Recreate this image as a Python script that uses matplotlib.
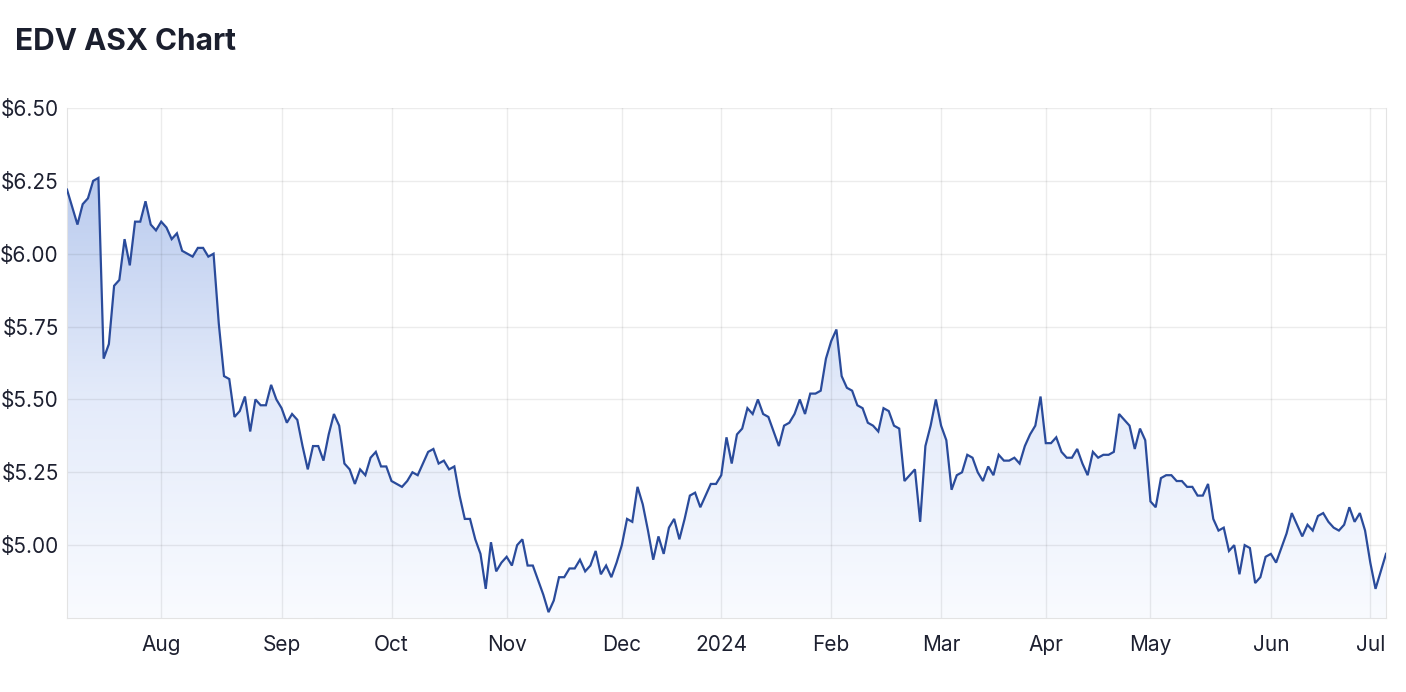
import matplotlib.pyplot as plt
import numpy as np
import pandas as pd
from matplotlib.colors import LinearSegmentedColormap

# ASX trading days Jul 2023 - Jul 2024 (closed on public holidays)
holidays = ['2023-12-25', '2023-12-26', '2024-01-01', '2024-01-26',
            '2024-03-29', '2024-04-01', '2024-04-25', '2024-06-10']
dates = pd.bdate_range('2023-07-06', '2024-07-04', freq='C', holidays=holidays)

# closing prices, one per trading day
jul23 = [6.22, 6.16, 6.10, 6.17, 6.19, 6.25, 6.26, 5.64, 5.69, 5.89, 5.91, 6.05,
         5.96, 6.11, 6.11, 6.18, 6.10, 6.08]
aug23 = [6.11, 6.09, 6.05, 6.07, 6.01, 6.00, 5.99, 6.02, 6.02, 5.99, 6.00, 5.76,
         5.58, 5.57, 5.44, 5.46, 5.51, 5.39, 5.50, 5.48, 5.48, 5.55, 5.50]
sep23 = [5.47, 5.42, 5.45, 5.43, 5.34, 5.26, 5.34, 5.34, 5.29, 5.38, 5.45, 5.41,
         5.28, 5.26, 5.21, 5.26, 5.24, 5.30, 5.32, 5.27, 5.27]
oct23 = [5.22, 5.21, 5.20, 5.22, 5.25, 5.24, 5.28, 5.32, 5.33, 5.28, 5.29, 5.26,
         5.27, 5.17, 5.09, 5.09, 5.02, 4.97, 4.85, 5.01, 4.91, 4.94]
nov23 = [4.96, 4.93, 5.00, 5.02, 4.93, 4.93, 4.88, 4.83, 4.77, 4.81, 4.89, 4.89,
         4.92, 4.92, 4.95, 4.91, 4.93, 4.98, 4.90, 4.93, 4.89, 4.94]
dec23 = [5.00, 5.09, 5.08, 5.20, 5.14, 5.05, 4.95, 5.03, 4.97, 5.06, 5.09, 5.02,
         5.09, 5.17, 5.18, 5.13, 5.17, 5.21, 5.21]
jan24 = [5.24, 5.37, 5.28, 5.38, 5.40, 5.47, 5.45, 5.50, 5.45, 5.44, 5.39, 5.34,
         5.41, 5.42, 5.45, 5.50, 5.45, 5.52, 5.52, 5.53, 5.64]
feb24 = [5.70, 5.74, 5.58, 5.54, 5.53, 5.48, 5.47, 5.42, 5.41, 5.39, 5.47, 5.46,
         5.41, 5.40, 5.22, 5.24, 5.26, 5.08, 5.34, 5.41, 5.50]
mar24 = [5.41, 5.36, 5.19, 5.24, 5.25, 5.31, 5.30, 5.25, 5.22, 5.27, 5.24, 5.31,
         5.29, 5.29, 5.30, 5.28, 5.34, 5.38, 5.41, 5.51]
apr24 = [5.35, 5.35, 5.37, 5.32, 5.30, 5.30, 5.33, 5.28, 5.24, 5.32, 5.30, 5.31,
         5.31, 5.32, 5.45, 5.43, 5.41, 5.33, 5.40, 5.36]
may24 = [5.15, 5.13, 5.23, 5.24, 5.24, 5.22, 5.22, 5.20, 5.20, 5.17, 5.17, 5.21,
         5.09, 5.05, 5.06, 4.98, 5.00, 4.90, 5.00, 4.99, 4.87, 4.89, 4.96]
jun24 = [4.97, 4.94, 4.99, 5.04, 5.11, 5.07, 5.03, 5.07, 5.05, 5.10, 5.11, 5.08,
         5.06, 5.05, 5.07, 5.13, 5.08, 5.11, 5.05]
jul24 = [4.94, 4.85, 4.91, 4.97]

prices = jul23 + aug23 + sep23 + oct23 + nov23 + dec23 + jan24 + feb24 + mar24 + apr24 + may24 + jun24 + jul24
y_ticks = [5.00, 5.25, 5.50, 5.75, 6.00, 6.25, 6.50]
y_labels = ['$5.00', '$5.25', '$5.50', '$5.75', '$6.00', '$6.25', '$6.50']

plt.rcParams['font.family'] = ['Inter', 'DejaVu Sans']

x = np.arange(len(prices))
ymin, ymax = 4.75, 6.50

fig = plt.figure(figsize=(14.06, 6.92), dpi=100)
ax = fig.add_axes([67 / 1406, 1 - 618 / 692, 1319 / 1406, 510 / 692])

# gradient area under the line
poly = ax.fill_between(x, prices, ymin, color='none', lw=0)
cmap = LinearSegmentedColormap.from_list('fade', ['#f9fbff', '#e4ebfa', '#bacbee'])
grad = np.linspace(0, 1, 256).reshape(-1, 1)
img = ax.imshow(grad, cmap=cmap, origin='lower', aspect='auto',
                extent=[0, len(prices) - 1, ymin, max(prices)], zorder=0)
img.set_clip_path(poly.get_paths()[0], transform=ax.transData)

ax.plot(x, prices, color='#2a4b9b', lw=1.6, zorder=3, solid_joinstyle='miter')

# month ticks at first trading day of each month
months = pd.Series(dates.to_period('M'))
first = months.ne(months.shift()).to_numpy()
first[0] = False
tick_pos = x[first]
tick_lab = ['2024' if d.month == 1 else d.strftime('%b') for d in dates[first]]

ax.set_xticks(tick_pos)
ax.set_xticklabels(tick_lab)
ax.set_yticks(y_ticks)
ax.set_yticklabels(y_labels)
ax.set_xlim(0, len(prices) - 1)
ax.set_ylim(ymin, ymax)

ax.tick_params(length=0, labelsize=15, labelcolor='#1d2030')
ax.tick_params(axis='x', pad=12)
ax.tick_params(axis='y', pad=6)
ax.grid(True, color='black', alpha=0.075, lw=1.0, zorder=1.5)
for s in ['left', 'bottom', 'right']:
    ax.spines[s].set_color('#e3e3e3')
ax.spines['top'].set_visible(False)

fig.text(15 / 1406, 1 - 42 / 692, 'EDV ASX Chart', fontsize=21.5, fontweight='bold',
         color='#1b1f2e', va='center', ha='left')

fig.savefig('out.png', dpi=100)
